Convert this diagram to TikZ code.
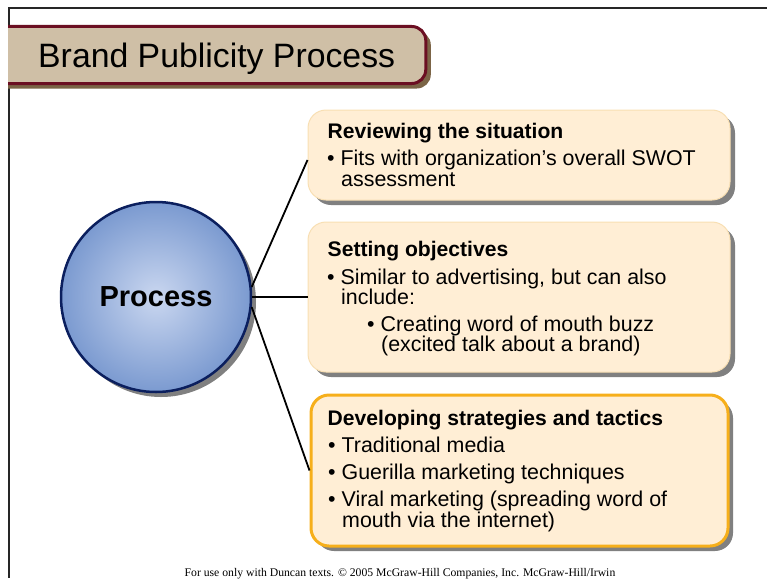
\documentclass[tikz,border=0pt]{standalone}
\usepackage{fontspec}
\setmainfont{Liberation Sans}
\newfontfamily\footfont{Liberation Serif}
\usetikzlibrary{shadows}
\definecolor{titlefill}{HTML}{CFBFA6}
\definecolor{titleline}{HTML}{6B0F22}
\definecolor{titleshadow}{HTML}{7B6446}
\definecolor{ballline}{HTML}{0B1F5E}
\definecolor{ballin}{HTML}{CAD7F0}
\definecolor{ballout}{HTML}{7B9AD0}
\definecolor{cream}{HTML}{FFEED5}
\definecolor{creamline}{HTML}{F8DFB3}
\definecolor{amber}{HTML}{F6AF1B}
\definecolor{shadowgray}{HTML}{808080}
\begin{document}
\begin{tikzpicture}[x=1pt,y=-1pt,
  txt/.style={anchor=base west, inner sep=0pt, font=\fontsize{21.4}{25}\selectfont},
  head/.style={anchor=base west, inner sep=0pt, font=\fontsize{21.1}{25}\selectfont\bfseries},
  graysh/.style={drop shadow={shadow xshift=5pt, shadow yshift=-5pt, fill=shadowgray, opacity=1}},
  panel/.style={draw=creamline, line width=1pt, fill=cream, rounded corners=18pt,
    inner sep=0pt, graysh},
  link/.style={line width=1.8pt, black}]
\useasboundingbox (0,0) rectangle (767,578);

% slide frame
\draw[line width=2pt, black!85] (767,8) -- (9,8) -- (9,578);

% title bar, running in from the left frame
\begin{scope}
  \clip (8,0) rectangle (767,578);
  \fill[titleshadow, rounded corners=14pt] (-30,31) rectangle (430.8,88.5);
  \draw[titleline, fill=titlefill, line width=3pt, rounded corners=14pt]
    (-30,26.5) rectangle (425.8,83.5);
\end{scope}
\node[anchor=base west, inner sep=0pt, font=\fontsize{33.8}{38}\selectfont]
  (title) at (38,67.7) {Brand Publicity Process};

% central circle
\node[circle, minimum size=190pt, inner sep=0pt, draw=ballline, line width=2.5pt,
  inner color=ballin, outer color=ballout, graysh,
  font=\fontsize{29}{34}\selectfont\bfseries] (proc) at (156,297) {Process};

% panels
\node[panel, minimum width=422pt, minimum height=90pt] (b1) at (519,155) {};
\node[panel, minimum width=422pt, minimum height=150pt] (b2) at (519,297) {};
\node[panel, draw=amber, line width=3pt, minimum width=417pt, minimum height=151pt]
  (b3) at (519.5,470.5) {};

% connectors
\draw[link] (proc.6) -- ([yshift=-5pt]b1.west);
\draw[link, line width=2.6pt] (proc.east) -- (b2.west);
\draw[link] (proc.-6) -- (b3.west);

% panel texts
\node[head] (h1) at (327.5,138.3) {Reviewing the situation};
\node[txt] (p1a) at (327,165.7) {• Fits with organization’s overall SWOT};
\node[txt] (p1b) at (341,186.7) {assessment};

\node[head] (h2) at (327.5,256) {Setting objectives};
\node[txt] (p2a) at (327,284) {• Similar to advertising, but can also};
\node[txt] (p2b) at (341,304) {include:};
\node[txt] (p2c) at (367,331) {• Creating word of mouth buzz};
\node[txt] (p2d) at (381,351) {(excited talk about a brand)};

\node[head] (h3) at (327.5,425) {Developing strategies and tactics};
\node[txt] (p3a) at (328,452.7) {• Traditional media};
\node[txt] (p3b) at (328,479.3) {• Guerilla marketing techniques};
\node[txt] (p3c) at (328,506.7) {• Viral marketing (spreading word of};
\node[txt] (p3d) at (342,527.3) {mouth via the internet)};

% footer
\node[anchor=base, inner sep=0pt, font=\footfont\fontsize{11.7}{13}\selectfont]
  (foot) at (400,576.5) {For use only with Duncan texts. © 2005 McGraw-Hill Companies, Inc. McGraw-Hill/Irwin};
\end{tikzpicture}
\end{document}
